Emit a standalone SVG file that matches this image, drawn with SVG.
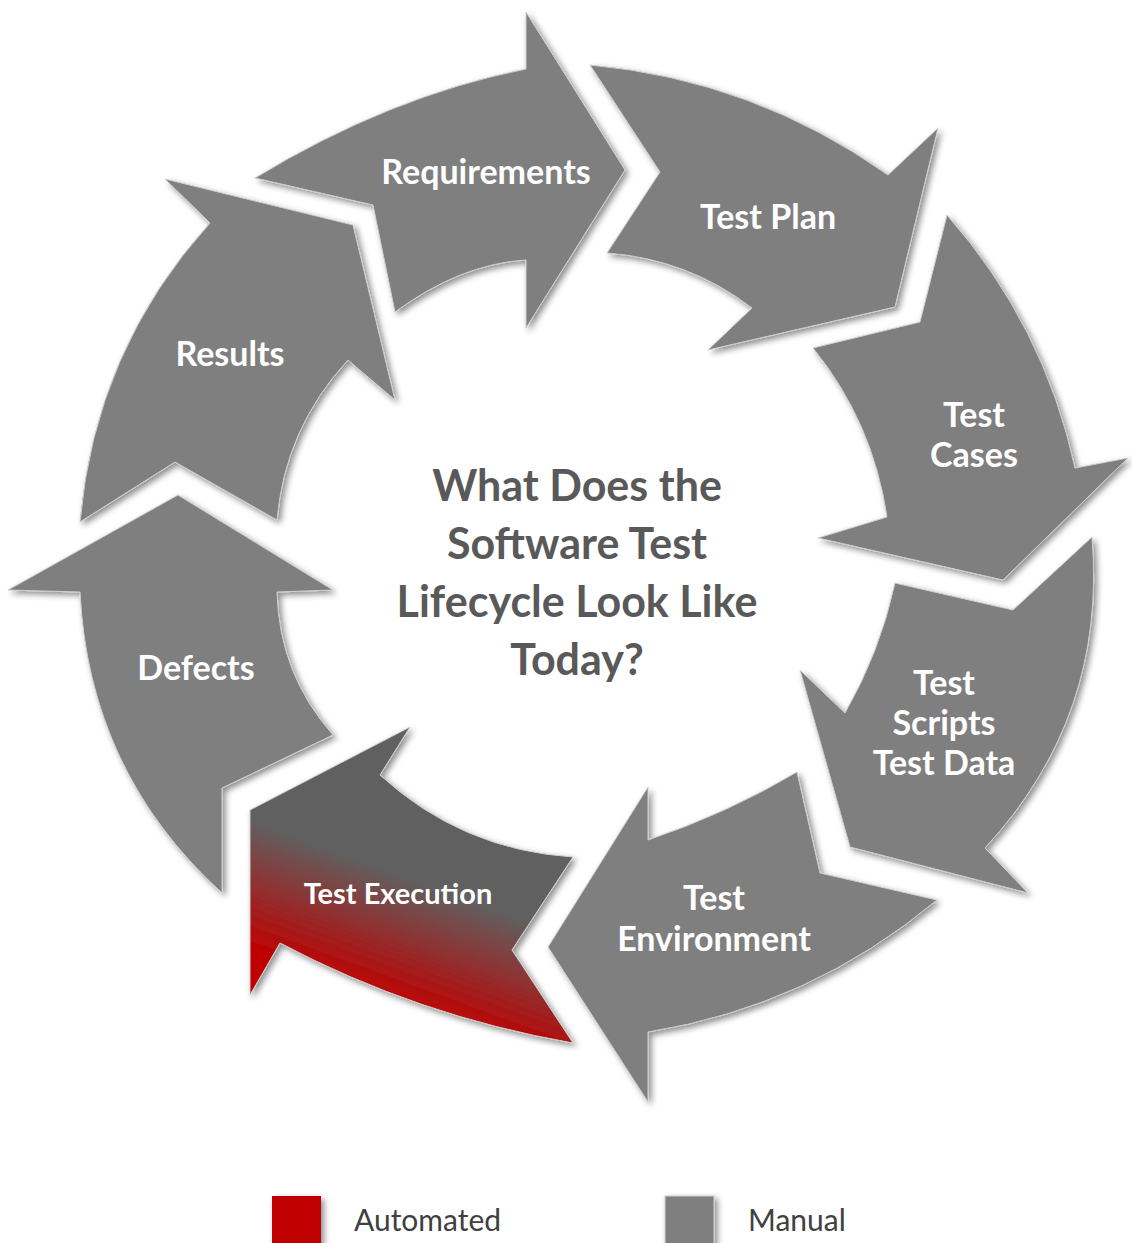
<svg xmlns="http://www.w3.org/2000/svg" width="1132" height="1243" viewBox="0 0 1132 1243">
<defs>
<filter id="sh" x="-20%" y="-20%" width="140%" height="140%">
<feDropShadow dx="3" dy="3" stdDeviation="3" flood-color="#000" flood-opacity="0.45"/>
</filter>
<linearGradient id="redgrad" gradientUnits="userSpaceOnUse" x1="400" y1="874" x2="358" y2="989">
<stop offset="0" stop-color="#606060"/>
<stop offset="1" stop-color="#c00000"/>
</linearGradient>
<style>
.seg{fill:#7f7f7f;stroke:#cfcfcf;stroke-width:1;filter:url(#sh)}
.lbl{font-family:Lato,"Open Sans",sans-serif;font-weight:bold;font-size:34px;fill:#ffffff;text-anchor:middle}
.title{font-family:Lato,"Open Sans",sans-serif;font-weight:bold;font-size:43px;fill:#595959;text-anchor:middle}
.leg{font-family:Lato,"Open Sans",sans-serif;font-size:30px;fill:#404040}
</style>
</defs>
<rect width="1132" height="1243" fill="#ffffff"/>
<g id="connectors"></g>
<g id="requirements">
<path class="seg" d="M255,178 Q390,96 526,69 L526,12 L625,170 L526,328 L526,260 Q460,264 395,312 L373,205 Z"/>
<text class="lbl" x="486" y="184">Requirements</text>
</g>
<g id="test-plan">
<path class="seg" d="M590,65 Q754,80 888,175 L938,128 L895,307 L708,350 L752,308 Q688,259 607,253 L660,172 Z"/>
<text class="lbl" x="768" y="229">Test Plan</text>
</g>
<g id="test-cases">
<path class="seg" d="M947,215 Q1044,325 1075,468 L1128,458 L1003,580 L818,538 L887,517 Q873,422 813,348 L920,322 Z"/>
<text class="lbl" x="974" y="427">Test</text>
<text class="lbl" x="974" y="467">Cases</text>
</g>
<g id="test-scripts">
<path class="seg" d="M1092,537 Q1107,716 985,848 L1028,893 L850,847 L800,670 L845,713 Q880,652 895,583 L1013,610 Z"/>
<text class="lbl" x="944" y="695">Test</text>
<text class="lbl" x="944" y="735">Scripts</text>
<text class="lbl" x="944" y="775">Test Data</text>
</g>
<g id="test-environment">
<path class="seg" d="M937,900 Q810,1006 648,1032 L648,1102 L548,947 L648,787 L648,840 Q726,814 797,772 L820,873 Z"/>
<text class="lbl" x="714" y="910">Test</text>
<text class="lbl" x="714" y="951">Environment</text>
</g>
<g id="test-execution">
<path class="seg" style="fill:url(#redgrad)" d="M573,1043 Q418,1016 280,943 L250,995 L250,810 L410,727 L380,775 Q462,850 573,857 L512,950 Z"/>
<text class="lbl" x="398" y="904" style="font-size:29px">Test Execution</text>
</g>
<g id="defects">
<path class="seg" d="M222,893 Q89,772 80,592 L8,590 L178,495 L333,590 L277,592 Q279,674 333,735 L222,788 Z"/>
<text class="lbl" x="196" y="680">Defects</text>
</g>
<g id="results">
<path class="seg" d="M80,522 Q95,350 210,223 L165,179 L353,225 L395,400 L348,360 Q285,428 277,520 L175,462 Z"/>
<text class="lbl" x="230" y="366">Results</text>
</g>
<g id="title">
<text class="title" x="577" y="501">What Does the</text>
<text class="title" x="577" y="559">Software Test</text>
<text class="title" x="577" y="617">Lifecycle Look Like</text>
<text class="title" x="577" y="675">Today?</text>
</g>
<g id="legend">
<rect x="272" y="1196" width="49" height="60" fill="#c00000" filter="url(#sh)"/>
<text class="leg" x="354" y="1231">Automated</text>
<rect x="665" y="1196" width="49" height="60" fill="#7f7f7f" stroke="#cfcfcf" stroke-width="1" filter="url(#sh)"/>
<text class="leg" x="748" y="1231">Manual</text>
</g>
</svg>
